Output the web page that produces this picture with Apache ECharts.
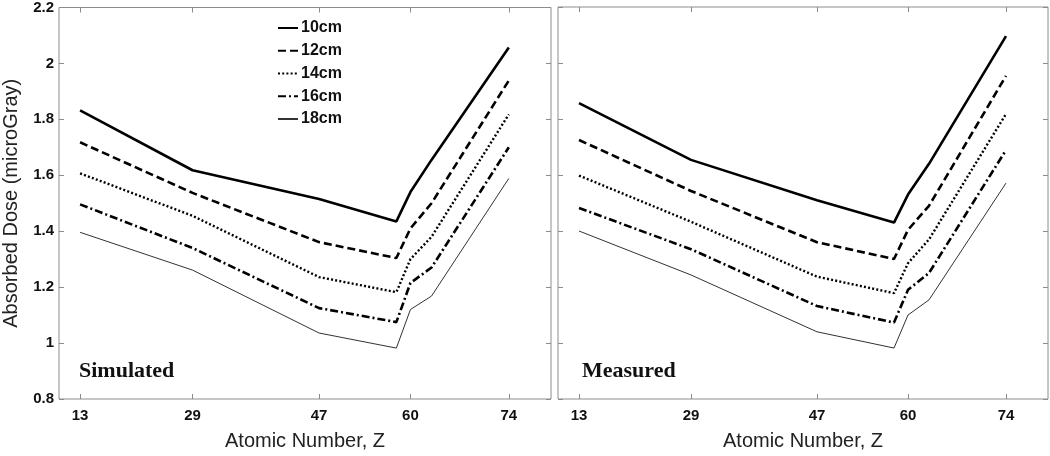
<!DOCTYPE html>
<html>
<head>
<meta charset="utf-8">
<script src="https://cdn.jsdelivr.net/npm/echarts@6/dist/echarts.min.js"></script>
<style>html,body{margin:0;padding:0;background:#fff;}#c{width:1050px;height:456px;}</style>
</head>
<body>
<div id="c"></div>
<script>
// Atomic numbers (x values)
const zValues = [13, 29, 47, 58, 60, 63, 74];
const xTickValues = [13, 29, 47, 60, 74];
const seriesNames = ['10cm', '12cm', '14cm', '16cm', '18cm'];
const panelTitles = ['Simulated', 'Measured'];

// Simulated (left panel)
const sim10 = [1.832, 1.618, 1.515, 1.435, 1.54, 1.655, 2.057];
const sim12 = [1.718, 1.537, 1.361, 1.304, 1.41, 1.50, 1.939];
const sim14 = [1.607, 1.455, 1.236, 1.182, 1.30, 1.38, 1.818];
const sim16 = [1.496, 1.34, 1.125, 1.075, 1.215, 1.27, 1.70];
const sim18 = [1.396, 1.261, 1.036, 0.982, 1.12, 1.168, 1.589];

// Measured (right panel)
const mea10 = [1.857, 1.654, 1.51, 1.43, 1.53, 1.64, 2.096];
const mea12 = [1.725, 1.543, 1.36, 1.30, 1.404, 1.49, 1.954];
const mea14 = [1.598, 1.433, 1.237, 1.178, 1.285, 1.37, 1.818];
const mea16 = [1.482, 1.335, 1.132, 1.073, 1.19, 1.25, 1.689];
const mea18 = [1.40, 1.243, 1.04, 0.982, 1.10, 1.154, 1.571];

const simAll = [sim10, sim12, sim14, sim16, sim18];
const meaAll = [mea10, mea12, mea14, mea16, mea18];

const lineStyles = [
  {color: '#000', width: 2.6, type: 'solid'},
  {color: '#000', width: 2.6, type: [8, 4]},
  {color: '#000', width: 2.4, type: [2, 2.2]},
  {color: '#000', width: 2.6, type: [8, 3, 2, 3]},
  {color: '#333', width: 1, type: 'solid'}
];

const frameColor = '#8c8c8c';
const grids = [
  {left: 58, top: 7, width: 493, height: 392, show: true, borderColor: frameColor, borderWidth: 1, backgroundColor: '#fff'},
  {left: 558, top: 7, width: 490, height: 392, show: true, borderColor: frameColor, borderWidth: 1, backgroundColor: '#fff'}
];

function xAx(gi, pos, labels) {
  return {
    type: 'value', gridIndex: gi, position: pos, min: 10, max: 80,
    name: labels ? 'Atomic Number, Z' : '',
    nameLocation: 'middle', nameGap: 32,
    nameTextStyle: {fontFamily: 'Arial, Liberation Sans', fontSize: 20, color: '#222'},
    axisLine: {show: false},
    axisTick: {show: true, inside: true, length: 5, customValues: xTickValues, lineStyle: {color: frameColor}},
    axisLabel: {show: labels, customValues: xTickValues, margin: 9, fontFamily: 'Arial, Liberation Sans', fontWeight: 'bold', fontSize: 15, color: '#111'},
    splitLine: {show: false}
  };
}
function yAx(gi, pos, labels) {
  return {
    type: 'value', gridIndex: gi, position: pos, min: 0.8, max: 2.2, interval: 0.2,
    name: labels ? 'Absorbed Dose (microGray)' : '',
    nameLocation: 'middle', nameGap: 38,
    nameTextStyle: {fontFamily: 'Arial, Liberation Sans', fontSize: 20, color: '#222'},
    axisLine: {show: false},
    axisTick: {show: true, inside: true, length: 5, lineStyle: {color: frameColor}},
    axisLabel: {show: labels, margin: 5, fontFamily: 'Arial, Liberation Sans', fontWeight: 'bold', fontSize: 15, color: '#111',
      formatter: v => String(Math.round(v * 10) / 10)},
    splitLine: {show: false}
  };
}

const series = [];
[simAll, meaAll].forEach((panel, pi) => {
  panel.forEach((vals, si) => {
    series.push({
      name: seriesNames[si], type: 'line',
      xAxisIndex: pi * 2, yAxisIndex: pi * 2,
      symbol: 'none', animation: false,
      lineStyle: lineStyles[si],
      itemStyle: {color: lineStyles[si].color},
      data: zValues.map((z, i) => [z, vals[i]])
    });
  });
});

const option = {
  animation: false,
  grid: grids,
  xAxis: [xAx(0, 'bottom', true), xAx(0, 'top', false), xAx(1, 'bottom', true), xAx(1, 'top', false)],
  yAxis: [yAx(0, 'left', true), yAx(0, 'right', false), yAx(1, 'left', false), yAx(1, 'right', false)],
  legend: {
    data: seriesNames, orient: 'vertical', left: 277, top: 20, padding: 0,
    itemWidth: 20, itemHeight: 16, itemGap: 6.75,
    itemStyle: {opacity: 0},
    textStyle: {fontFamily: 'Arial, Liberation Sans', fontWeight: 'bold', fontSize: 16, color: '#111', padding: [0, 0, 0, -2]}
  },
  graphic: panelTitles.map((t, i) => ({
    type: 'text', left: i === 0 ? 79 : 582, top: 360,
    style: {text: t, font: 'bold 22px "Liberation Serif", "Times New Roman", serif', fill: '#111'}
  })),
  series: series
};

const chart = echarts.init(document.getElementById('c'), null, {renderer: 'canvas'});
chart.setOption(option);
</script>
</body>
</html>
